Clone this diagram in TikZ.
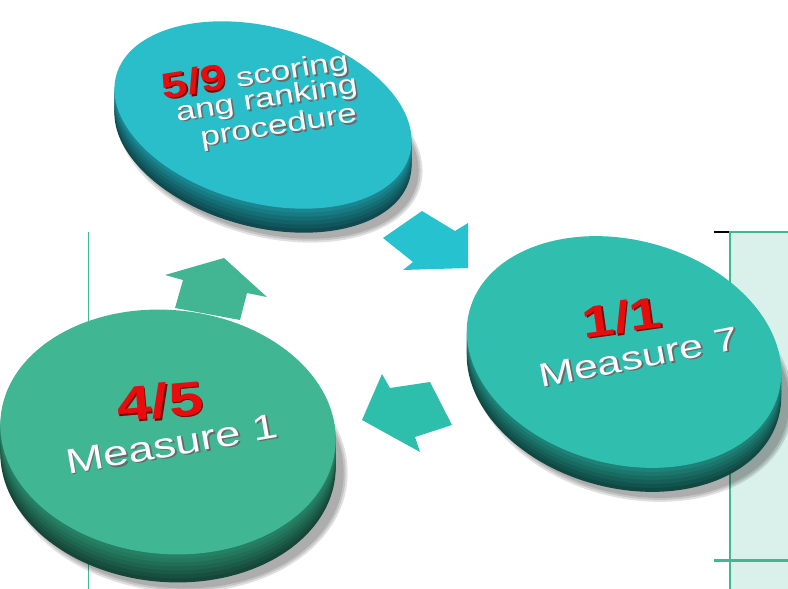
\documentclass[tikz,border=0pt]{standalone}
\usepackage{fontspec}
\setmainfont{Liberation Sans}
\usetikzlibrary{shapes,positioning}
\definecolor{cyanface}{RGB}{42,190,202}
\definecolor{cyanside}{RGB}{26,134,144}
\definecolor{tealface}{RGB}{48,190,174}
\definecolor{tealside}{RGB}{30,130,120}
\definecolor{greenface}{RGB}{64,182,146}
\definecolor{greenside}{RGB}{38,128,100}
\definecolor{cyanarrow}{RGB}{38,194,208}
\definecolor{tealarrow}{RGB}{46,190,172}
\definecolor{greenarrow}{RGB}{66,182,146}
\definecolor{mint}{RGB}{218,240,234}
\definecolor{rule}{RGB}{64,184,146}
\definecolor{numred}{RGB}{232,12,12}
\definecolor{numshade}{RGB}{120,0,0}
\definecolor{txtshade}{RGB}{105,105,105}
\tikzstyle{disk} = [ellipse, inner sep=0pt, outer sep=0pt, draw=none]
\tikzstyle{blur} = [disk, fill=black, opacity=0.12]
\tikzstyle{lbl} = [text=white, align=center, inner sep=0pt, xscale=1.3]
\newcommand{\raised}[3]{\makebox[0pt][l]{\kern1.2pt\raisebox{-1.6pt}{\textcolor{#2}{#3}}}\textcolor{#1}{#3}}

\begin{document}
\begin{tikzpicture}[x=1pt,y=-1pt]
 	\useasboundingbox (0,0) rectangle (788,589);
 	% panel on the right and thin rules
 	\fill[mint] (730,232) rectangle (788,589);
 	\draw[rule, line width=2pt] (730,589) -- (730,232) -- (788,232);
 	\draw[black, line width=1.5pt] (714,232) -- (729,232);
 	\draw[rule, line width=3pt] (714,560) -- (788,560);
 	\draw[rule, line width=1pt] (88,232) -- (88,589);
 	
 	% arrows between the disks
 	\fill[cyanarrow] (383,238) -- (422,211) -- (455,231) -- (468,223) -- (468,268) -- (403,270) -- (413,262) -- cycle;
 	\fill[tealarrow] (362,420) -- (382,374) -- (390,388) -- (430,382) -- (452,425) -- (415,437) -- (420,452) -- cycle;
 	\fill[greenarrow] (224,258) -- (267,297) -- (247,293) -- (240,320) -- (175,308) -- (183,280) -- (165,275) -- cycle;
 	
 	% left disk
 	\foreach \g in {0,4,8}
 		\node[blur, minimum width={336pt+\g pt}, minimum height={244pt+\g pt}, rotate=-5] at (176,466) {};
 	\foreach \dy/\m in {28/55,24/62,20/70,16/78,12/86,8/94,4/100}
 		\node[disk, minimum width=336pt, minimum height=244pt, rotate=-5, fill=greenside!\m!black] at (168,{432+\dy}) {};
 	\node[disk, minimum width=336pt, minimum height=244pt, rotate=-5, fill=greenface] (leftdisk) at (168,432) {};
 	
 	% top disk
 	\foreach \g in {0,4,8}
 		\node[blur, minimum width={304pt+\g pt}, minimum height={176pt+\g pt}, rotate=-15] at (270,145) {};
 	\foreach \dy/\m in {24/55,20/64,16/73,12/82,8/91,4/100}
 		\node[disk, minimum width=304pt, minimum height=176pt, rotate=-15, fill=cyanside!\m!black] at (263,{115+\dy}) {};
 	\node[disk, minimum width=304pt, minimum height=176pt, rotate=-15, fill=cyanface] (topdisk) at (263,115) {};
 	
 	% right disk
 	\foreach \g in {0,4,8}
 		\node[blur, minimum width={320pt+\g pt}, minimum height={224pt+\g pt}, rotate=-15] at (632,382) {};
 	\foreach \dy/\m in {24/55,20/64,16/73,12/82,8/91,4/100}
 		\node[disk, minimum width=320pt, minimum height=224pt, rotate=-15, fill=tealside!\m!black] at (624,{352+\dy}) {};
 	\node[disk, minimum width=320pt, minimum height=224pt, rotate=-15, fill=tealface] (rightdisk) at (624,352) {};
 	
 	% texts
 	\node[rotate=9, lbl, font=\fontsize{27}{27}\selectfont] (topline1) at (255,75) {\textbf{\fontsize{36}{36}\selectfont\raised{numred}{numshade}{5/9}} \raised{white}{txtshade}{scoring}};
 	\node[rotate=9, lbl, font=\fontsize{27}{27}\selectfont] (topline2) at (267,101) {\raised{white}{txtshade}{ang ranking}};
 	\node[rotate=9, lbl, font=\fontsize{27}{27}\selectfont] (topline3) at (279,128) {\raised{white}{txtshade}{procedure}};
 	
 	\node[rotate=8, lbl, font=\bfseries\fontsize{44}{44}\selectfont] (rightnum) at (622,318) {\raised{numred}{numshade}{1/1}};
 	\node[rotate=11, lbl, font=\fontsize{33}{33}\selectfont] (rightname) at (639,358) {\raised{white}{txtshade}{Measure 7}};
 	
 	\node[rotate=5, lbl, font=\bfseries\fontsize{48}{48}\selectfont] (leftnum) at (160,402) {\raised{numred}{numshade}{4/5}};
 	\node[rotate=10, lbl, font=\fontsize{35}{35}\selectfont] (leftname) at (172,445) {\raised{white}{txtshade}{Measure 1}};
\end{tikzpicture}
\end{document}
